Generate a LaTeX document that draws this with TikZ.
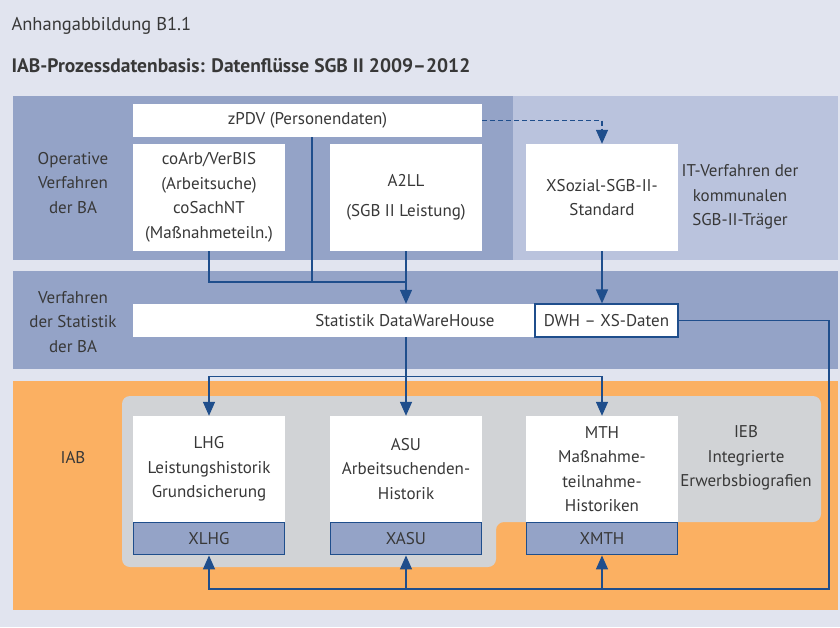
\documentclass[tikz,border=0pt]{standalone}
\usepackage{fontspec}
\setmainfont{PT Sans}
\usetikzlibrary{arrows.meta,positioning}
\definecolor{bgback}{HTML}{E1E4EF}
\definecolor{banddark}{HTML}{94A3C7}
\definecolor{bandlight}{HTML}{BAC3DD}
\definecolor{iaborange}{HTML}{FBB062}
\definecolor{panelgray}{HTML}{D1D3D6}
\definecolor{flowblue}{HTML}{1F4E8C}
\definecolor{txtgray}{HTML}{383838}

\begin{document}
\begin{tikzpicture}[x=1pt,y=-1pt,
  every node/.style={text=txtgray,font=\fontsize{17}{24.5}\selectfont,align=center},
  box/.style={fill=white,inner sep=0pt},
  xbox/.style={fill=banddark,draw=flowblue,line width=1.2pt,inner sep=0pt,minimum width=151,minimum height=32},
  flow/.style={draw=flowblue,line width=1.4pt},
  flowto/.style={flow,-{Triangle[length=14pt,width=12pt]}}]
\useasboundingbox (0,0) rectangle (840,627);
% background and bands
\fill[bgback] (0,0) rectangle (840,627);
\fill[banddark] (13,96) rectangle (513,260);
\fill[bandlight] (513,96) rectangle (838,260);
\fill[banddark] (13,271) rectangle (838,369);
\fill[iaborange] (13,381) rectangle (838,610);
\fill[panelgray,rounded corners=8pt] (122,396) -- (821,396) -- (821,522) -- (496,522) -- (496,567) -- (122,567) -- cycle;

% titles
\node[anchor=west,font=\fontsize{18.5}{22}\selectfont] (fig) at (8,26) {Anhangabbildung B1.1};
\node[anchor=west,font=\bfseries\fontsize{19.5}{23}\selectfont] (title) at (8,66) {IAB-Prozessdatenbasis: Datenflüsse SGB II 2009–2012};

% operative systems
\node[box,minimum width=349,minimum height=33] (zpdv) at (307.5,120.5) {zPDV (Personendaten)};
\node[box,minimum width=152,minimum height=107] (coarb) at (209,197.5) {coArb/VerBIS\\(Arbeitsuche)\\coSachNT\\(Maßnahmeteiln.)};
\node[box,minimum width=152,minimum height=107] (a2ll) at (406,197.5) {A2LL\\[6pt](SGB II Leistung)};
\node[box,minimum width=152,minimum height=107] (xsozial) at (602,197.5) {XSozial-SGB-II-\\Standard};
\node (opba) at (73,183) {Operative\\Verfahren\\der BA};
\node (itkom) at (740,197) {IT-Verfahren der\\kommunalen\\SGB-II-Träger};

% statistics
\node[box,minimum width=402,minimum height=33] (dwh) at (334,320.5) {};
\node (dwhtext) at (405,320.5) {Statistik DataWareHouse};
\node[box,draw=flowblue,line width=1.2pt,minimum width=143,minimum height=33] (dwhxs) at (606.5,320.5) {DWH – XS-Daten};
\node (statba) at (73,322) {Verfahren\\der Statistik\\der BA};

% IAB
\node[box,minimum width=152,minimum height=106] (lhg) at (209,469) {LHG\\Leistungshistorik\\Grundsicherung};
\node[xbox,anchor=north] (xlhg) at (lhg.south) {XLHG};
\node[box,minimum width=152,minimum height=106] (asu) at (406,469) {ASU\\Arbeitsuchenden-\\Historik};
\node[xbox,anchor=north] (xasu) at (asu.south) {XASU};
\node[box,minimum width=152,minimum height=106] (mth) at (602,469) {MTH\\Maßnahme-\\teilnahme-\\Historiken};
\node[xbox,anchor=north] (xmth) at (mth.south) {XMTH};
\node (iab) at (73,458) {IAB};
\node (ieb) at (746,458) {IEB\\Integrierte\\Erwerbsbiografien};

% flows
\coordinate (bus1) at (0,282);
\coordinate (zdrop) at (312,137);
\coordinate (bus2) at (0,376.5);
\coordinate (ret) at (829,589);
\draw[flow] (coarb.south) |- (a2ll.south |- bus1);
\draw[flow] (zdrop) -- (zdrop |- bus1);
\draw[flowto] (a2ll.south) -- (a2ll.south |- dwh.north);
\draw[flowto,dash pattern=on 5pt off 3pt] (zpdv.east) -| (xsozial.north);
\draw[flowto] (xsozial.south) -- (xsozial.south |- dwhxs.north);
\draw[flowto] (dwh.south -| asu) -- (asu.north);
\draw[flowto] (asu.north |- bus2) -| (lhg.north);
\draw[flowto] (asu.north |- bus2) -| (mth.north);
\draw[flowto] (dwhxs.east) -| (ret) -| (xlhg.south);
\draw[flowto] (xasu.south |- ret) -- (xasu.south);
\draw[flowto] (xmth.south |- ret) -- (xmth.south);
\end{tikzpicture}
\end{document}
